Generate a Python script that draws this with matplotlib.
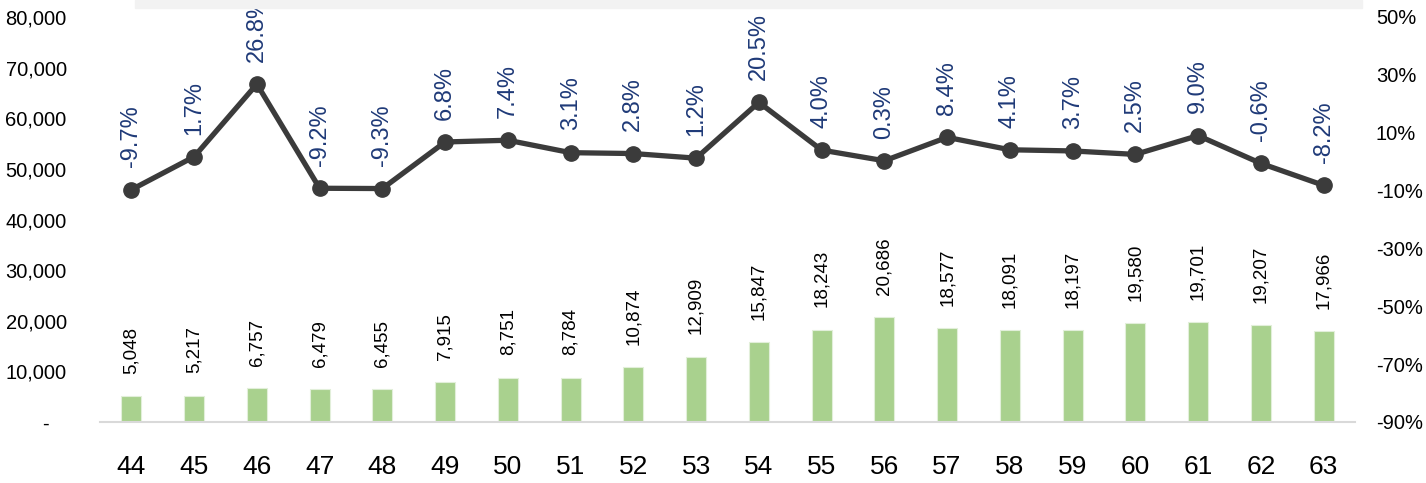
import matplotlib
matplotlib.use("Agg")
import matplotlib.pyplot as plt
from matplotlib.patches import Rectangle
from matplotlib.ticker import FuncFormatter

years = ["44", "45", "46", "47", "48", "49", "50", "51", "52", "53",
         "54", "55", "56", "57", "58", "59", "60", "61", "62", "63"]
volumes = [5048, 5217, 6757, 6479, 6455, 7915, 8751, 8784, 10874, 12909,
           15847, 18243, 20686, 18577, 18091, 18197, 19580, 19701, 19207, 17966]
growth = [-9.7, 1.7, 26.8, -9.2, -9.3, 6.8, 7.4, 3.1, 2.8, 1.2,
          20.5, 4.0, 0.3, 8.4, 4.1, 3.7, 2.5, 9.0, -0.6, -8.2]

bar_color = "#a9d18e"
line_color = "#3b3b3b"
label_blue = "#1f3a78"
font = "Liberation Sans"

fig = plt.figure(figsize=(14.26, 4.83), dpi=100)
ax = fig.add_axes([100 / 1426, 1 - 422 / 483, 1255 / 1426, 405 / 483])
ax2 = ax.twinx()

x = list(range(len(years)))
ax.bar(x, volumes, width=0.32, color=bar_color, edgecolor="#e2efda", linewidth=0.8, zorder=2)
for xi, v in zip(x, volumes):
    ax.annotate(f"{v:,}", (xi, v), xytext=(0, 16), textcoords="offset points",
                rotation=90, ha="center", va="bottom", fontsize=13.5,
                family=font, color="black")

ax2.plot(x, growth, color=line_color, lw=3.8, marker="o", markersize=11, zorder=3)
for xi, g in zip(x, growth):
    ax2.annotate(f"{g:.1f}%", (xi, g), xytext=(0, 16), textcoords="offset points",
                 rotation=90, ha="center", va="bottom", fontsize=17,
                 family=font, color=label_blue, annotation_clip=False)

ax.set_xlim(-0.5, len(years) - 0.5)
ax.set_ylim(0, 80000)
ax.set_yticks(range(0, 80001, 10000))
ax.yaxis.set_major_formatter(FuncFormatter(lambda v, p: "-   " if v == 0 else f"{int(v):,}"))
ax2.set_ylim(-90, 50)
ax2.set_yticks(range(-90, 51, 20))
ax2.yaxis.set_major_formatter(FuncFormatter(lambda v, p: f"{int(v)}%"))

ax.set_xticks(x)
ax.set_xticklabels(years)
ax.tick_params(axis="x", length=0, pad=24, labelsize=19)
ax.tick_params(axis="y", length=0, pad=24, labelsize=14.5)
ax2.tick_params(axis="y", length=0, pad=15, labelsize=14.5)
for t in ax.get_xticklabels() + ax.get_yticklabels() + ax2.get_yticklabels():
    t.set_family(font)

for a in (ax, ax2):
    for s in ("top", "left", "right", "bottom"):
        a.spines[s].set_visible(False)
ax.spines["bottom"].set_visible(True)
ax.spines["bottom"].set_color("#d9d9d9")
ax.spines["bottom"].set_linewidth(1.5)

fig.patches.append(Rectangle((135 / 1426, 1 - 8 / 483), 1227 / 1426, 8 / 483,
                             transform=fig.transFigure, color="#f2f2f2", zorder=0))

fig.savefig("out.png", dpi=100)
